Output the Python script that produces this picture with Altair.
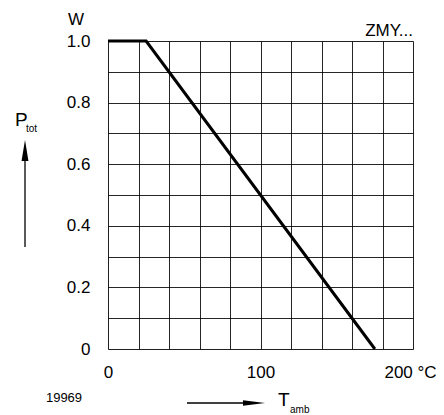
import altair as alt
import pandas as pd

# Derating curve data
temps = [0, 25, 175]
power = [1.0, 1.0, 0.0]

x_grid = [0, 20, 40, 60, 80, 100, 120, 140, 160, 180, 200]
y_grid = [0, 0.1, 0.2, 0.3, 0.4, 0.5, 0.6, 0.7, 0.8, 0.9, 1.0]

FONT = "Liberation Sans"

df = pd.DataFrame({"T": temps, "P": power})

x_enc = alt.X(
    "T:Q",
    scale=alt.Scale(domain=[0, 200], nice=False, zero=False),
    axis=alt.Axis(
        values=x_grid, title=None, grid=True, gridColor="#000", gridWidth=1,
        gridOpacity=0.85, ticks=False, domain=False, labelFont=FONT,
        labelFontSize=17, labelColor="#000", labelPadding=15, labelFlush=False,
        labelOverlap=False,
        labelOffset={"condition": {"test": "datum.value == 200", "value": -3}, "value": 0},
        labelExpr="datum.value == 200 ? '200 °C' : (datum.value % 100 == 0 ? format(datum.value, 'd') : '')",
    ),
)
y_enc = alt.Y(
    "P:Q",
    scale=alt.Scale(domain=[0, 1], nice=False, zero=False),
    axis=alt.Axis(
        values=y_grid, title=None, grid=True, gridColor="#000", gridWidth=1,
        gridOpacity=0.85, ticks=False, domain=False, labelFont=FONT,
        labelFontSize=17, labelColor="#000", labelPadding=18, labelFlush=False,
        labelOverlap=False,
        labelExpr="(round(datum.value*10) % 2 == 0) ? (datum.value == 0 ? '0' : format(datum.value, '.1f')) : ''",
    ),
)

line = alt.Chart(df).mark_line(color="#000", strokeWidth=3, clip=False).encode(x=x_enc, y=y_enc)


def txt(s, x, y, size, align="left"):
    return alt.Chart(pd.DataFrame({"t": [s]})).mark_text(
        font=FONT, fontSize=size, color="#000", align=align, baseline="alphabetic"
    ).encode(x=alt.value(x), y=alt.value(y), text="t:N")


one = pd.DataFrame({"k": [0]})

up_shaft = alt.Chart(one).mark_rule(color="#000", strokeWidth=1.3).encode(
    x=alt.value(-83), y=alt.value(115), y2=alt.value(206)
)
up_head = alt.Chart(one).mark_point(
    shape="M0,-1L0.33,1L-0.33,1Z", filled=True, color="#000", opacity=1, size=441
).encode(x=alt.value(-83), y=alt.value(109.5))

rt_shaft = alt.Chart(one).mark_rule(color="#000", strokeWidth=1.3).encode(
    x=alt.value(79), x2=alt.value(140), y=alt.value(362)
)
rt_head = alt.Chart(one).mark_point(
    shape="M1,0L-1,0.26L-1,-0.26Z", filled=True, color="#000", opacity=1, size=484
).encode(x=alt.value(146), y=alt.value(362))

chart = alt.layer(
    line,
    txt("W", -32, -16, 17, "center"),
    txt("ZMY...", 305, -5, 17, "right"),
    txt("P", -93, 85, 19),
    txt("tot", -82, 91, 10),
    txt("19969", -44, 361, 13, "center"),
    txt("T", 170, 365, 19),
    txt("amb", 182, 372, 10),
    up_shaft, up_head, rt_shaft, rt_head,
).properties(
    width=305,
    height=308,
    autosize=alt.AutoSizeParams(type="none"),
    padding={"left": 100, "top": 33, "right": 23, "bottom": 66},
).configure_view(
    stroke="#000", strokeWidth=2
).configure(background="white")

chart.save("out.html", embed_options={"renderer": "svg", "actions": False})
